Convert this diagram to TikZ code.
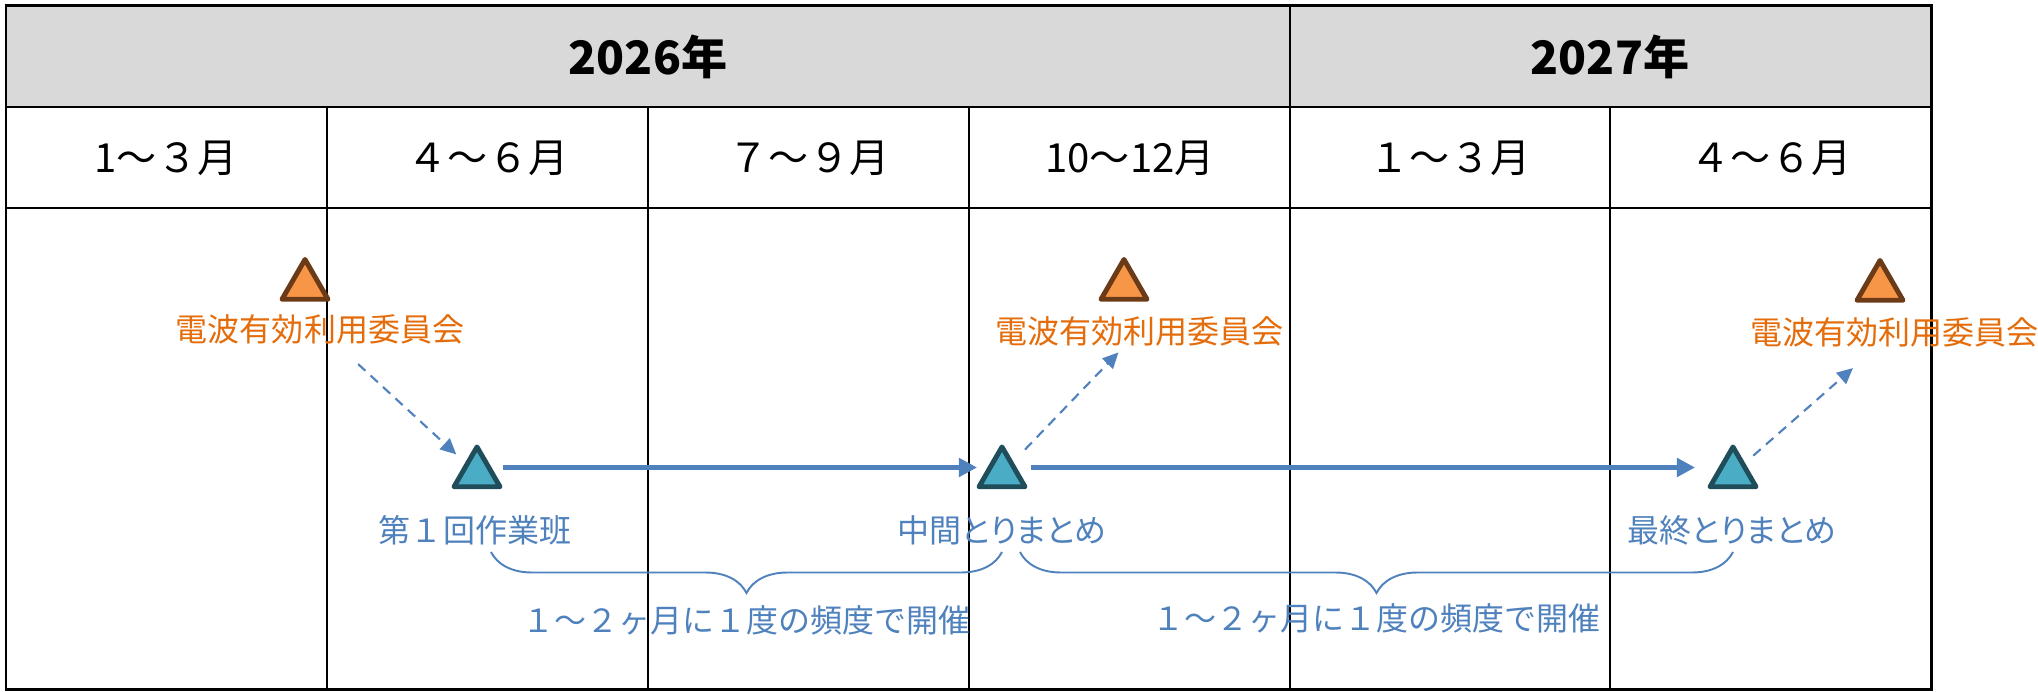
\documentclass[tikz,border=0pt]{standalone}
\usepackage{fontspec}
\setmainfont{Noto Sans CJK JP}
\newfontfamily\paltfont{Noto Sans CJK JP}[RawFeature=+palt]
\usetikzlibrary{shapes.geometric,arrows.meta,decorations.pathreplacing,calc}
\definecolor{hdrgray}{HTML}{D9D9D9}
\definecolor{kaiorange}{HTML}{F79646}
\definecolor{kaibrown}{HTML}{6B3A17}
\definecolor{kaitext}{HTML}{E46C0A}
\definecolor{hanfill}{HTML}{4BACC6}
\definecolor{hanedge}{HTML}{1F4D5A}
\definecolor{flowblue}{HTML}{4F81BD}

\begin{document}
\begin{tikzpicture}[x=0.01cm, y=-0.01cm,
		grid line/.style={line width=0.57pt},
		year node/.style={font=\fontsize{13.1pt}{15pt}\selectfont\bfseries},
		month node/.style={font=\fontsize{11.4pt}{13pt}\selectfont},
		tri/.style={regular polygon, regular polygon sides=3, line width=1.4pt, line join=round,
			minimum size=0.53cm, inner sep=0pt, outer sep=0pt},
		iinkai/.style={tri, draw=kaibrown, fill=kaiorange},
		han/.style={tri, draw=hanedge, fill=hanfill},
		iinkai label/.style={text=kaitext, inner sep=0pt, font=\fontsize{9.1pt}{11pt}\selectfont},
		han label/.style={text=flowblue, inner sep=0pt, font=\fontsize{9.1pt}{11pt}\selectfont},
		flow/.style={draw=flowblue, line width=1.4pt, -{Triangle[length=5.2pt,width=5.2pt]}},
		ref/.style={draw=flowblue, line width=0.6pt, dash pattern=on 2.8pt off 2pt,
			-{Triangle[length=4.5pt,width=4.2pt]}},
		brc/.style={draw=flowblue, line width=0.55pt, decorate, decoration={brace, amplitude=0.41cm}}]
	
	\useasboundingbox (0,0) rectangle (2038,692);
	
	% table
	\fill[hdrgray] (6,6) rectangle (1931,107);
	\draw[grid line] (6,107) -- (1931,107) (6,208) -- (1931,208);
	\draw[grid line] (1290,6) -- (1290,690);
	\foreach \x in {327,648,969,1610} \draw[grid line] (\x,107) -- (\x,690);
	\draw[line width=0.85pt] (6,6) rectangle (1931,690);
	
	\node[year node] (y1) at (648,57) {2026年};
	\node[year node] (y2) at (1610,57) {2027年};
	
	\node[month node] (m1) at (166,158) {1～３月};
	\node[month node] (m2) at (488,158) {４～６月};
	\node[month node] (m3) at (809,158) {７～９月};
	\node[month node] (m4) at (1130,158) {10～12月};
	\node[month node] (m5) at (1450,158) {１～３月};
	\node[month node] (m6) at (1771,158) {４～６月};
	
	% milestones
	\node[iinkai] (o1) at (305,286) {};
	\node[iinkai] (o2) at (1124,286) {};
	\node[iinkai] (o3) at (1880,287) {};
	\node[iinkai label] (l1) at (320,329) {電波有効利用委員会};
	\node[iinkai label] (l2) at (1139,331) {電波有効利用委員会};
	\node[iinkai label] (l3) at (1894,332) {電波有効利用委員会};
	
	\node[han] (b1) at (477,473.5) {};
	\node[han] (b2) at (1002,473.5) {};
	\node[han] (b3) at (1733,473.5) {};
	\node[han label] (t1) at (475,530) {第１回作業班};
	\node[han label, font=\paltfont\fontsize{9.1pt}{11pt}\selectfont] (t2) at (1002,530) {中間とりまとめ};
	\node[han label, font=\paltfont\fontsize{9.1pt}{11pt}\selectfont] (t3) at (1732,530) {最終とりまとめ};
	
	\path
	([xshift=0.106cm,yshift=0.06cm]b1.east) edge[flow] ([xshift=-0.096cm,yshift=0.06cm]b2.west)
	([xshift=0.136cm,yshift=0.06cm]b2.east) edge[flow] ([xshift=-0.226cm,yshift=0.06cm]b3.west)
	
	($(l1)!0.243!(b1)$) edge[ref] ($(l1)!0.868!(b1)$)
	($(b2)!0.168!(l2)$) edge[ref] ($(b2)!0.85!(l2)$)
	($(b3)!0.126!(l3)$) edge[ref] ($(b3)!0.745!(l3)$)
	;
	
	\draw[brc] (b2 |- 0,552) -- ($(b1 |- 0,552)+(14,0)$)
		node[midway, yshift=-0.68cm, han label, decoration={}] {１～２ヶ月に１度の頻度で開催};
	\draw[brc] (b3 |- 0,552) -- ($(b2 |- 0,552)+(18,0)$)
		node[midway, yshift=-0.66cm, han label] {１～２ヶ月に１度の頻度で開催};
\end{tikzpicture}
\end{document}
